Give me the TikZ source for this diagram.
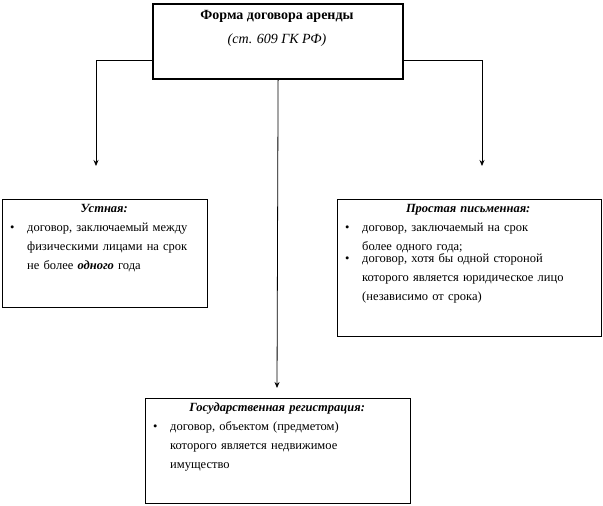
\documentclass[tikz,border=0pt]{standalone}
\usepackage{fontspec}
\setmainfont{Liberation Serif}
\usetikzlibrary{arrows.meta}
\newcommand{\pitem}[2]{\par\noindent\hspace*{6pt}\makebox[17pt][l]{\textbullet}\parbox[t]{#1}{\raggedright #2}\par}
\newcommand{\ptitle}[1]{{\centering\textbf{\textit{#1}}\par}}
\tikzset{
  frame/.style={draw, line width=0.8pt, anchor=north west, inner sep=0pt},
  txt/.style={anchor=north west, align=left, inner sep=0pt, font=\fontsize{12.5}{19}\selectfont},
  link/.style={line width=0.8pt, -{Stealth[length=6pt,width=5pt]}}
}
\begin{document}
\begin{tikzpicture}[x=1pt, y=-1pt]
  \useasboundingbox (0,0) rectangle (603,506);
  % top box
  \node[frame, line width=2.2pt, minimum width=250pt, minimum height=75pt] (form) at (152,3) {};
  \node[font=\fontsize{14}{24}\selectfont, align=center, anchor=north] (formtxt) at (277,7)
    {\textbf{Форма договора аренды}\\ \textit{(ст. 609 ГК РФ)}};
  % boxes
  \node[frame, minimum width=205pt, minimum height=108pt] (oral) at (2,199) {};
  \node[frame, minimum width=264pt, minimum height=137pt] (written) at (337,199) {};
  \node[frame, minimum width=265pt, minimum height=105pt] (reg) at (145,398) {};
  % texts
  \node[txt, text width=200pt] (oraltxt) at (4,204)
    {\ptitle{Устная:}
     \pitem{165pt}{договор, заключаемый между физическими лицами на срок не более \textbf{\textit{одного}} года}};
  \node[txt, text width=258pt] (writtentxt) at (339,204)
    {\ptitle{Простая письменная:}
     \pitem{185pt}{договор, заключаемый на срок более одного года;}
     \pitem{230pt}{договор, хотя бы одной стороной которого является юридическое лицо (независимо от срока)}};
  \node[txt, text width=260pt] (regtxt) at (147,403)
    {\ptitle{Государственная регистрация:}
     \pitem{200pt}{договор, объектом (предметом) которого является недвижимое имущество}};
  % connectors
  \coordinate (lc) at (96,60);
  \coordinate (rc) at (482,60);
  \coordinate (cend) at (277,388);
  \draw[link] (form.west |- lc) -- (lc) -- ++(0,106);
  \draw[link] (form.east |- rc) -- (rc) -- ++(0,106);
  \draw[link] (form.south) -- (cend);
\end{tikzpicture}
\end{document}
